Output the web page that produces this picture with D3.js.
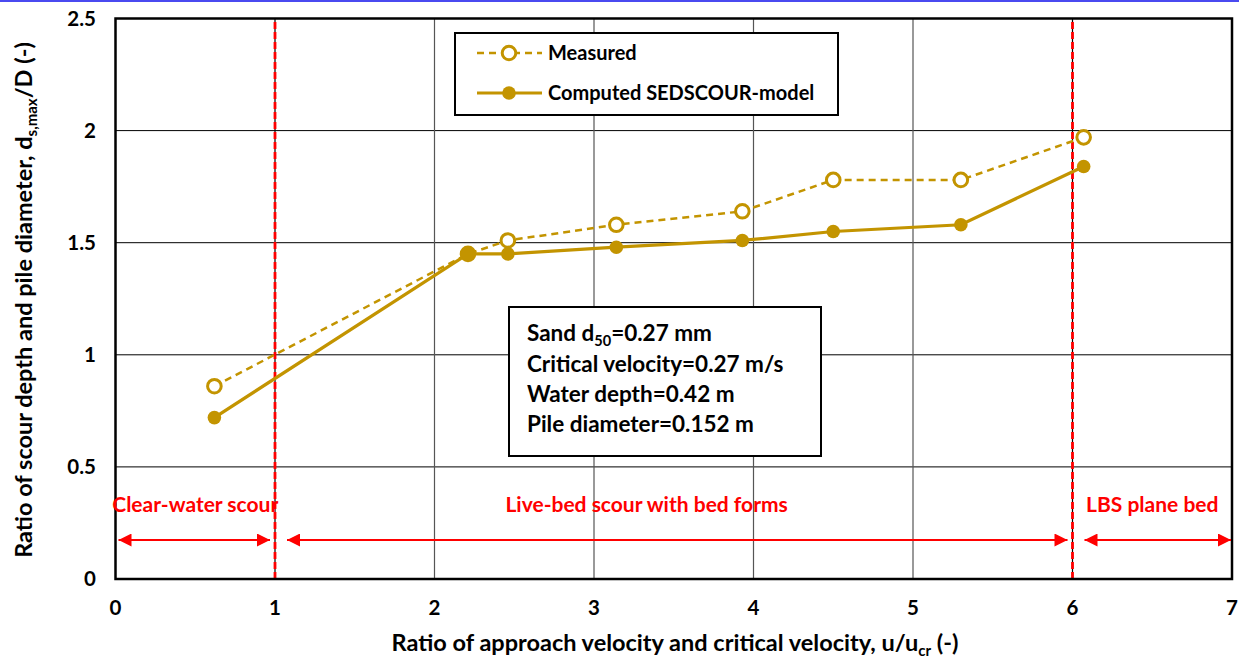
<!DOCTYPE html>
<html>
<head>
<meta charset="utf-8">
<script src="https://cdn.jsdelivr.net/npm/d3@7"></script>
<style>
  body { margin: 0; background: #fff; }
  text { font-family: Lato, "Open Sans", sans-serif; font-weight: bold; }
</style>
</head>
<body>
<script>
// data
var measuredX = [0.62, 2.21, 2.46, 3.14, 3.93, 4.5, 5.3, 6.07];
var measuredY = [0.86, 1.45, 1.51, 1.58, 1.64, 1.78, 1.78, 1.97];
var computedX = [0.62, 2.21, 2.46, 3.14, 3.93, 4.5, 5.3, 6.07];
var computedY = [0.72, 1.45, 1.45, 1.48, 1.51, 1.55, 1.58, 1.84];
var xTicks = [0, 1, 2, 3, 4, 5, 6, 7];
var yTicks = [0, 0.5, 1, 1.5, 2, 2.5];
var regimeBounds = [1, 6];
var regimeNames = ["Clear-water scour", "Live-bed scour with bed forms", "LBS plane bed"];
var regimeFrom = [0, 1, 6];
var regimeTo = [1, 6, 7];
var regimeLabelAt = [0.5, 3.33, 6.5]; // label centre, in u/ucr units
var infoLines = ["Critical velocity=0.27 m/s", "Water depth=0.42 m", "Pile diameter=0.152 m"];

var width = 1239, height = 662;
var margin = { left: 115.5, right: 7, top: 18.5, bottom: 83 };
var gold = "#c39400";

var svg = d3.select("body").append("svg")
  .attr("width", width).attr("height", height);

svg.append("rect").attr("x", 0).attr("y", 0).attr("width", width).attr("height", 2)
  .attr("fill", "#4a4af0");

var x = d3.scaleLinear().domain([0, 7]).range([margin.left, width - margin.right]);
var y = d3.scaleLinear().domain([0, 2.5]).range([height - margin.bottom, margin.top]);

var defs = svg.append("defs");
defs.append("marker").attr("id", "ah")
  .attr("viewBox", "0 0 10 10").attr("refX", 10).attr("refY", 5)
  .attr("markerWidth", 8).attr("markerHeight", 6.5).attr("markerUnits", "strokeWidth")
  .attr("orient", "auto-start-reverse")
  .append("path").attr("d", "M0,0L10,5L0,10Z").attr("fill", "#ff0000");

//grid
svg.append("g").selectAll("line").data(yTicks.slice(1, -1)).enter().append("line")
  .attr("x1", x(0)).attr("x2", x(7)).attr("y1", d => y(d)).attr("y2", d => y(d))
  .attr("stroke", "#000").attr("stroke-width", 1);
svg.append("g").selectAll("line").data(xTicks.slice(1, -1)).enter().append("line")
  .attr("x1", d => x(d)).attr("x2", d => x(d)).attr("y1", y(0)).attr("y2", y(2.5))
  .attr("stroke", d => regimeBounds.indexOf(d) >= 0 ? "#000" : "#555").attr("stroke-width", 1.2);

//regime boundaries
svg.append("g").selectAll("line").data(regimeBounds).enter().append("line")
  .attr("x1", d => x(d)).attr("x2", d => x(d)).attr("y1", y(0)).attr("y2", y(2.5))
  .attr("stroke", "#ff0000").attr("stroke-width", 2.8).attr("stroke-dasharray", "7,3");

//frame
svg.append("rect").attr("x", x(0)).attr("y", y(2.5))
  .attr("width", x(7) - x(0)).attr("height", y(0) - y(2.5))
  .attr("fill", "none").attr("stroke", "#000").attr("stroke-width", 2.5);

//ticks
svg.append("g").selectAll("text").data(yTicks).enter().append("text")
  .attr("x", 96).attr("y", d => y(d) + 7)
  .attr("text-anchor", "end").attr("font-size", 20.5).text(d => d);
svg.append("g").selectAll("text").data(xTicks).enter().append("text")
  .attr("x", d => x(d)).attr("y", 615)
  .attr("text-anchor", "middle").attr("font-size", 20.5).text(d => d);

//axis titles
var xt = svg.append("text").attr("x", 675).attr("y", 651).attr("text-anchor", "middle")
  .attr("font-size", 23.5);
xt.append("tspan").text("Ratio of approach velocity and critical velocity, u/u");
xt.append("tspan").attr("font-size", 15).attr("dy", 5).text("cr");
xt.append("tspan").attr("dy", -5).text(" (-)");

var yt = svg.append("text").attr("transform", "translate(32,300) rotate(-90)")
  .attr("text-anchor", "middle").attr("font-size", 23.5);
yt.append("tspan").text("Ratio of  scour depth and pile diameter, d");
yt.append("tspan").attr("font-size", 15).attr("dy", 5).text("s,max");
yt.append("tspan").attr("dy", -5).text("/D (-)");

//regime labels and arrows
var rg = svg.append("g").selectAll("g").data(regimeNames).enter().append("g");
rg.append("text").attr("x", (d, i) => x(regimeLabelAt[i])).attr("y", 512)
  .attr("text-anchor", "middle").attr("font-size", 21).attr("fill", "#ff0000")
  .text(d => d);
rg.append("line")
  .attr("x1", (d, i) => x(regimeFrom[i]) + (regimeFrom[i] === 0 ? 3 : 12))
  .attr("x2", (d, i) => x(regimeTo[i]) - (regimeTo[i] === 7 ? 1 : 5))
  .attr("y1", 540).attr("y2", 540)
  .attr("stroke", "#ff0000").attr("stroke-width", 2)
  .attr("marker-start", "url(#ah)").attr("marker-end", "url(#ah)");

//series
var measured = measuredX.map((v, i) => [v, measuredY[i]]);
var computed = computedX.map((v, i) => [v, computedY[i]]);
var line = d3.line().x(d => x(d[0])).y(d => y(d[1]));

svg.append("path").datum(measured).attr("d", line).attr("fill", "none")
  .attr("stroke", gold).attr("stroke-width", 2.5).attr("stroke-dasharray", "7,5");
svg.append("path").datum(computed).attr("d", line).attr("fill", "none")
  .attr("stroke", gold).attr("stroke-width", 3.2);
svg.append("g").selectAll("circle").data(measured).enter().append("circle")
  .attr("cx", d => x(d[0])).attr("cy", d => y(d[1])).attr("r", 6.8)
  .attr("fill", "#fff").attr("stroke", gold).attr("stroke-width", 3);
svg.append("g").selectAll("circle").data(computed).enter().append("circle")
  .attr("cx", d => x(d[0])).attr("cy", d => y(d[1])).attr("r", 6.8)
  .attr("fill", gold);

//legend
var lg = svg.append("g");
lg.append("rect").attr("x", 455).attr("y", 33).attr("width", 383).attr("height", 82)
  .attr("fill", "#fff").attr("stroke", "#000").attr("stroke-width", 2);
var legendItems = [
  { name: "Measured", dash: "7,5", open: true, yy: 53 },
  { name: "Computed SEDSCOUR-model", dash: null, open: false, yy: 93 }
];
legendItems.forEach(function (it) {
  lg.append("line").attr("x1", 477).attr("x2", 542).attr("y1", it.yy).attr("y2", it.yy)
    .attr("stroke", gold).attr("stroke-width", it.open ? 2.5 : 3.2)
    .attr("stroke-dasharray", it.dash);
  lg.append("circle").attr("cx", 509).attr("cy", it.yy).attr("r", 6.8)
    .attr("fill", it.open ? "#fff" : gold).attr("stroke", it.open ? gold : "none")
    .attr("stroke-width", 3);
  lg.append("text").attr("x", 548).attr("y", it.yy + 7).attr("font-size", 20).text(it.name);
});

//info box
var ib = svg.append("g");
ib.append("rect").attr("x", 509).attr("y", 307).attr("width", 312).attr("height", 149)
  .attr("fill", "#fff").attr("stroke", "#000").attr("stroke-width", 2);
var first = ib.append("text").attr("x", 527).attr("y", 341).attr("font-size", 22.5);
first.append("tspan").text("Sand d");
first.append("tspan").attr("font-size", 14.5).attr("dy", 5).text("50");
first.append("tspan").attr("dy", -5).text("=0.27 mm");
ib.selectAll("text.info").data(infoLines).enter().append("text").attr("class", "info")
  .attr("x", 527).attr("y", (d, i) => 372 + i * 30).attr("font-size", 22.5).text(d => d);
</script>
</body>
</html>
